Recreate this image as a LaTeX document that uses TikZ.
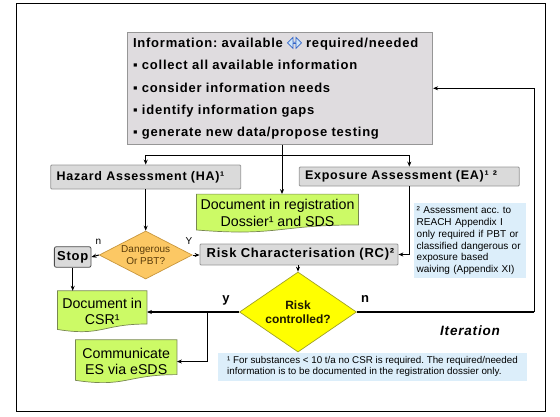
\documentclass[tikz,border=0pt]{standalone}
\usepackage{fontspec}
\setmainfont{Liberation Sans}
\newfontfamily\wide[LetterSpace=6]{Liberation Sans}
\usetikzlibrary{shapes.geometric,shapes.arrows,arrows.meta,backgrounds,calc}
\frenchspacing

\definecolor{infofill}{RGB}{223,220,223}
\definecolor{boxfill}{RGB}{218,218,218}
\definecolor{boxline}{RGB}{150,150,150}
\definecolor{docfill}{RGB}{204,250,102}
\definecolor{docline}{RGB}{120,135,80}
\definecolor{orangefill}{RGB}{252,200,100}
\definecolor{orangeline}{RGB}{200,150,60}
\definecolor{yellowfill}{RGB}{255,255,0}
\definecolor{yellowline}{RGB}{160,160,40}
\definecolor{notefill}{RGB}{220,238,250}
\definecolor{dangtext}{RGB}{90,60,10}
\definecolor{risktext}{RGB}{30,25,0}
\definecolor{symblue}{RGB}{50,100,200}
\definecolor{symfill}{RGB}{205,230,250}

\newcommand\symb{\tikz[baseline=-4.5pt]\node[double arrow, draw=symblue, fill=symfill, line width=0.6pt, minimum height=14pt, minimum width=11pt, inner sep=0pt, double arrow head extend=2.5pt]{};}

\newcommand\docpath[1]{%
  \path[fill=docfill, draw=docline, line width=0.7pt]
    let \p1=(#1.north west), \p2=(#1.south east) in
    (\x1,\y1) -- (\x2,\y1) -- (\x2,{\y1+0.802*(\y2-\y1)})
    .. controls ({0.5*(\x1+\x2)},{\y1+0.802*(\y2-\y1)}) and ({0.5*(\x1+\x2)},{\y1+1.107*(\y2-\y1)})
    .. (\x1,{\y1+0.934*(\y2-\y1)}) -- cycle;}

\tikzset{
  graybox/.style={draw=boxline, fill=boxfill, inner ysep=0pt, line width=0.8pt, rounded corners=1pt},
  boxfont/.style={font=\wide\bfseries\fontsize{#1}{#1}\selectfont},
  docnode/.style={inner sep=0pt, align=center, font=\fontsize{14.2}{16.8}\selectfont},
  arr/.style={draw, line width=1pt, -{Stealth[length=5pt,width=4pt]}},
  plainline/.style={draw, line width=1pt},
  thickarr/.style={arr, line width=1.7pt},
  thickline/.style={draw, line width=1.7pt},
  note/.style={fill=notefill, inner ysep=0pt, align=left, font=\fontsize{10}{11.8}\selectfont},
  lab/.style={inner sep=0pt, font=\fontsize{10}{10}\selectfont},
  blab/.style={inner sep=0pt, font=\bfseries\fontsize{13}{13}\selectfont},
}

\begin{document}
\begin{tikzpicture}[x=1pt,y=-1pt]
\useasboundingbox (0,0) rectangle (560,416);
\draw[line width=1pt] (16.7,3.3) rectangle (545.7,411);

% information box
\node[graybox, fill=infofill, rounded corners=0pt, minimum width=305pt, minimum height=112pt,
      text width=294.4pt, inner xsep=5.3pt, align=left,
      font=\wide\bfseries\fontsize{13}{22.35}\selectfont] (info) at (280.2,88.3)
  {Information: available \symb{} required/needed\\
   ▪ collect all available information\\
   ▪ consider information needs\\
   ▪ identify information gaps\\
   ▪ generate new data/propose testing};

% assessment boxes
\node[graybox, boxfont=12.5, minimum width=190pt, minimum height=24pt, text width=178pt, inner xsep=6pt, align=left] (ha) at (145.7,177) {Hazard Assessment (HA)¹};
\node[graybox, boxfont=12.5, minimum width=220pt, minimum height=19pt, text width=208.6pt, inner xsep=5.7pt, align=left] (ea) at (409.3,176.5) {Exposure Assessment (EA)¹ ²};
\node[graybox, boxfont=13, minimum width=198pt, minimum height=21pt, text width=184.6pt, inner xsep=6.7pt, align=left] (rc) at (299,254.5) {Risk Characterisation (RC)²};
\node[graybox, draw=gray!60!black, rounded corners=2pt, boxfont=13, minimum width=36.7pt, minimum height=20.6pt, inner xsep=0pt] (stop) at (72.7,257) {Stop};

% document nodes
\node[docnode, minimum width=161.6pt, minimum height=38pt] (doc1) at (277.5,213.3) {Document in registration\\Dossier¹ and SDS};
\node[docnode, minimum width=89pt, minimum height=41pt] (csr) at (102.2,311.5) {Document in\\CSR¹};
\node[docnode, minimum width=101pt, minimum height=43pt] (comm) at (126.2,361.5) {Communicate\\ES via eSDS};
\begin{pgfonlayer}{background}
  \docpath{doc1}
  \docpath{csr}
  \docpath{comm}
\end{pgfonlayer}

% decisions
\node[diamond, draw=orangeline, fill=orangefill, line width=0.7pt, minimum width=93pt, minimum height=48pt, aspect=1.94, inner sep=0pt, align=center, text=dangtext, font=\fontsize{10}{11.4}\selectfont] (dang) at (145.7,255) {\makebox[0pt]{Dangerous}\\\makebox[0pt]{Or PBT?}};
\node[diamond, draw=yellowline, fill=yellowfill, line width=0.7pt, minimum width=117pt, minimum height=80pt, aspect=1.46, inner sep=0pt, align=center, text=risktext, font=\bfseries\fontsize{12}{14.3}\selectfont] (risk) at (298,312) {\makebox[0pt]{Risk}\\\makebox[0pt]{controlled?}};

% notes
\node[note, minimum width=111.7pt, minimum height=75pt, text width=107pt, inner xsep=2.4pt] (reach) at (470.2,240.8)
  {² Assessment acc. to\\REACH Appendix I\\only required if PBT or\\classified dangerous or\\exposure based\\waiving (Appendix XI)};
\node[note, minimum width=309pt, minimum height=27.8pt, inner xsep=0pt, font=\fontsize{9.8}{11.7}\selectfont] (foot) at (372.5,366.6)
  {¹ For substances < 10 t/a no CSR is required. The required/needed\\information is to be documented in the registration dossier only.};

% labels
\node[lab] (ln) at (98.3,241.7) {n};
\node[lab] (ly) at (189,240.7) {Y};
\node[blab] (ry) at (226,300.7) {y};
\node[blab] (rn) at (365,299.3) {n};
\node[inner sep=0pt, font=\wide\bfseries\itshape\fontsize{13.5}{13.5}\selectfont] (iter) at (470,331) {Iteration};

% connectors
\coordinate (jm) at (282,155);
\draw[plainline] (ha.north |- jm) -- (ea.north |- jm);
\draw[arr] (ha.north |- jm) -- (ha.north);
\draw[arr] (ea.north |- jm) -- (ea.north);
\draw[arr] (jm |- info.south) -- (jm |- doc1.north);
\draw[arr] (ha.south) -- (dang.north);
\draw[arr] (dang.west) -- (stop.east);
\draw[arr] (dang.east) -- (dang.east -| rc.west);
\draw[arr] (ea.south) |- (rc.east);
\draw[arr] (rc.south -| risk.north) -- (risk.north);
\draw[arr] (stop.south) -- (stop.south |- csr.north);
\draw[thickarr] (risk.west) -- (risk.west -| csr.east);
\coordinate (jb) at (207.3,312);
\draw[arr] (jb) |- (comm.east);
\coordinate (jr) at (534.3,312);
\draw[thickline] (risk.east) -- (jr);
\draw[arr] (jr) |- (info.east);
\end{tikzpicture}
\end{document}
